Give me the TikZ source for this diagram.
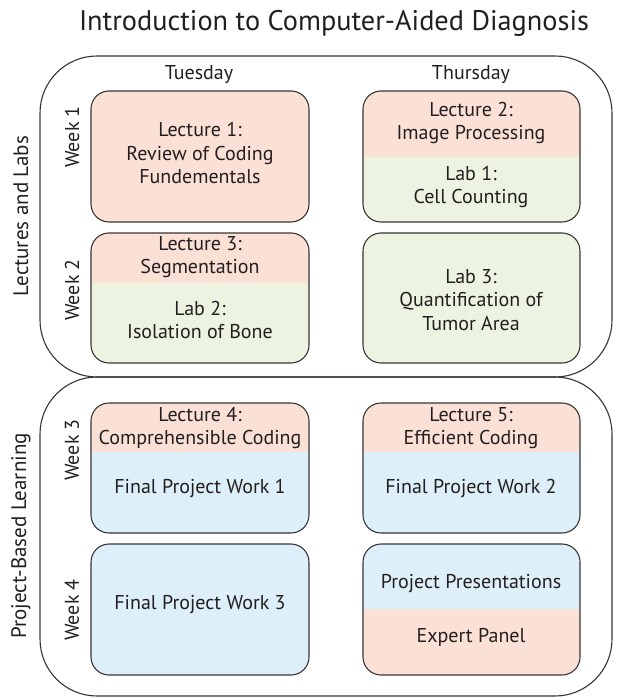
\documentclass[tikz,border=0pt]{standalone}
\usepackage{fontspec}
\setmainfont{PT Sans}
\definecolor{ink}{HTML}{231F20}
\definecolor{lec}{HTML}{FBE0D6}
\definecolor{lab}{HTML}{ECF3E0}
\definecolor{proj}{HTML}{DDEFF8}
\tikzset{
  frame/.style={draw=ink!90, line width=1.1bp, rounded corners=57bp},
  cellborder/.style={draw=ink!90, line width=1.1bp},
  txt/.style={align=center, text=ink, inner sep=0pt, font=\fontsize{20bp}{23.5bp}\selectfont},
  head/.style={text=ink, inner sep=0pt, font=\fontsize{20bp}{22bp}\selectfont},
  side/.style={text=ink, inner sep=0pt, rotate=90, font=\fontsize{21bp}{24bp}\selectfont},
  week/.style={text=ink, inner sep=0pt, rotate=90, font=\fontsize{20bp}{22bp}\selectfont},
  title/.style={text=ink, inner sep=0pt, font=\fontsize{28.3bp}{32bp}\selectfont}
}
\newcommand\cellbox[7]{%
  \begin{scope}
    \clip[rounded corners=18bp] (#1,#2) rectangle (#3,#4);
    \fill[#6] (#1,#2) rectangle (#3,#5);
    \fill[#7] (#1,#5) rectangle (#3,#4);
  \end{scope}
  \draw[cellborder, rounded corners=18bp] (#1,#2) rectangle (#3,#4);}
\begin{document}
\begin{tikzpicture}[x=1bp, y=-1bp]
  \useasboundingbox (0,0) rectangle (617,698);
  \fill[white] (0,0) rectangle (617,698);
  % title
  \node[title] (title) at (334,23) {Introduction to Computer-Aided Diagnosis};
  % outer frames
  \draw[frame] (40,56) rectangle (612,377);
  \draw[frame] (40,377) rectangle (612,696);
  % side labels
  \node[side] (s1) at (21,216) {Lectures and Labs};
  \node[side] (s2) at (21,536) {Project-Based Learning};
  \node[week] (w1) at (72,137) {Week 1};
  \node[week] (w2) at (72,290) {Week 2};
  \node[week] (w3) at (72,450) {Week 3};
  \node[week] (w4) at (72,610) {Week 4};
  % day headers
  \node[head] (tue) at (199,75) {Tuesday};
  \node[head] (thu) at (471,75) {Thursday};
  % cells
  \cellbox{91}{91}{309}{222}{222}{lec}{lec}
  \cellbox{363}{91}{580}{222}{157}{lec}{lab}
  \cellbox{91}{233}{309}{363}{283}{lec}{lab}
  \cellbox{363}{233}{580}{363}{363}{lab}{lab}
  \cellbox{91}{403}{309}{533}{452}{lec}{proj}
  \cellbox{363}{403}{580}{533}{452}{lec}{proj}
  \cellbox{91}{544}{309}{675}{675}{proj}{proj}
  \cellbox{363}{544}{580}{675}{609}{proj}{lec}
  % texts
  \node[txt] (c1) at (200,153) {Lecture 1:\\Review of Coding\\Fundementals};
  \node[txt] (c2a) at (471,123) {Lecture 2:\\Image Processing};
  \node[txt] (c2b) at (471,187) {Lab 1:\\Cell Counting};
  \node[txt] (c3a) at (200,257) {Lecture 3:\\Segmentation};
  \node[txt] (c3b) at (200,320) {Lab 2:\\Isolation of Bone};
  \node[txt] (c4) at (471,300) {Lab 3:\\Quantification of\\Tumor Area};
  \node[txt] (c5a) at (200,428) {Lecture 4:\\Comprehensible Coding};
  \node[txt] (c5b) at (200,488) {Final Project Work 1};
  \node[txt] (c6a) at (471,428) {Lecture 5:\\Efficient Coding};
  \node[txt] (c6b) at (471,488) {Final Project Work 2};
  \node[txt] (c7) at (200,605) {Final Project Work 3};
  \node[txt] (c8a) at (471,584) {Project Presentations};
  \node[txt] (c8b) at (471,637) {Expert Panel};
\end{tikzpicture}
\end{document}
